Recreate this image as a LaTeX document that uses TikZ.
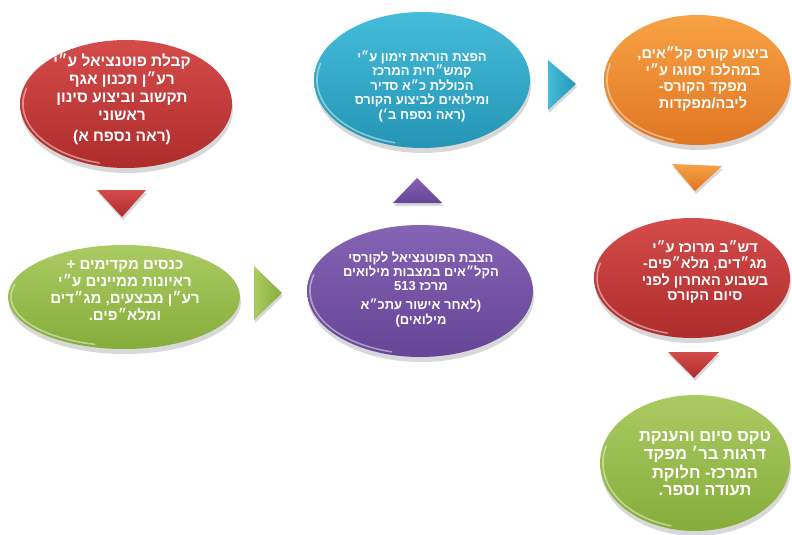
\documentclass[tikz,border=0pt]{standalone}
\usepackage{fontspec}
\setmainfont{Liberation Sans}
\newfontfamily\hebfont[Script=Hebrew]{Liberation Sans}
\TeXXeTstate=1
\usetikzlibrary{shapes.geometric,shadows}
\newcommand\rl[1]{\beginR #1\endR}
\newenvironment{hlines}{\begin{tabular}{@{}c@{}}}{\end{tabular}}
\definecolor{redA}{HTML}{D44C4A}\definecolor{redB}{HTML}{AE2C2C}
\definecolor{grnA}{HTML}{AACB62}\definecolor{grnB}{HTML}{85AD3A}
\definecolor{purA}{HTML}{8563B5}\definecolor{purB}{HTML}{654595}
\definecolor{bluA}{HTML}{45BCDA}\definecolor{bluB}{HTML}{2595B5}
\definecolor{orgA}{HTML}{F8A245}\definecolor{orgB}{HTML}{E07622}
\tikzset{
  bub/.style={ellipse, inner sep=0pt, draw=none,
    drop shadow={opacity=0.3, shadow xshift=1pt, shadow yshift=-5pt}},
  txt/.style={text=white, font=\hebfont\bfseries, inner sep=0pt},
  tri/.style={draw=none, drop shadow={opacity=0.3, shadow xshift=1pt, shadow yshift=-3pt}},
  rim/.style={draw=white, opacity=0.45, line width=1.6pt, line cap=round}
}
\newcommand\bubble[7]{%
  \node[bub, top color=#6, bottom color=#7, minimum width={2*#4pt}, minimum height={2*#5pt}] (#1) at (#2,#3) {};
  \draw[rim] (#1.center) ++(105:{#4-3} and {#5-3}) arc[start angle=105, end angle=195, x radius={#4-3}, y radius={#5-3}];
}
\begin{document}
\begin{tikzpicture}[x=1pt,y=-1pt]
\useasboundingbox (0,0) rectangle (792,535);
\fill[white] (0,0) rectangle (792,535);

\bubble{red1}{126}{104}{106}{64}{redA}{redB}
\bubble{grn1}{124}{297}{116}{52}{grnA}{grnB}
\bubble{pur}{420}{291}{113}{66}{purA}{purB}
\bubble{blu}{422}{80}{108}{68}{bluA}{bluB}
\bubble{org}{697}{80}{93}{65}{orgA}{orgB}
\bubble{red2}{692}{278}{98}{60}{redA}{redB}
\bubble{grn2}{695}{463}{95}{68}{grnA}{grnB}

% triangles
\path[tri, top color=redA, bottom color=redB] (97,190) -- (146,190) -- (122,217) -- cycle;
\path[tri, left color=grnA, right color=grnB] (254,266) -- (254,320) -- (282,293) -- cycle;
\path[tri, top color=purA, bottom color=purB] (393,203) -- (442,203) -- (417,178) -- cycle;
\path[tri, left color=bluA, right color=bluB] (548,60) -- (548,110) -- (576,84) -- cycle;
\path[tri, top color=orgA, bottom color=orgB] (672,164) -- (722,166) -- (695,191) -- cycle;
\path[tri, top color=redA, bottom color=redB] (668,352) -- (719,352) -- (694,378) -- cycle;

% texts
\node[txt] (t1) at (122,100) {\fontsize{15.5}{18}\selectfont\begin{hlines}
\rl{קבלת פוטנציאל ע״י}\\ \rl{רע״ן תכנון אגף}\\ \rl{תקשוב וביצוע סינון}\\ \rl{ראשוני}\\[3pt] \rl{(ראה נספח א)}\end{hlines}};
\node[txt] (t2) at (422,87) {\fontsize{13}{13.5}\selectfont\begin{hlines}
\rl{הפצת הוראת זימון ע״י}\\ \rl{קמש״חית המרכז}\\ \rl{הכוללת כ״א סדיר}\\ \rl{ומילואים לביצוע הקורס}\\ \rl{(ראה נספח ב׳)}\end{hlines}};
\node[txt] (t3) at (703,80) {\fontsize{14.5}{16}\selectfont\begin{hlines}
\rl{ביצוע קורס קל״אים,}\\ \rl{במהלכו יסווגו ע״י}\\ \rl{מפקד הקורס-}\\ \rl{ליבה/מפקדות}\end{hlines}};
\node[txt] (t4) at (705,273) {\fontsize{14.5}{15.5}\selectfont\begin{hlines}
\rl{דש״ב מרוכז ע״י}\\ \rl{מג״דים, מלא״פים-}\\ \rl{בשבוע האחרון לפני}\\ \rl{סיום הקורס}\end{hlines}};
\node[txt] (t5) at (705,465) {\fontsize{16.5}{17.5}\selectfont\begin{hlines}
\rl{טקס סיום והענקת}\\ \rl{דרגות בר׳ מפקד}\\ \rl{המרכז- חלוקת}\\ \rl{תעודה וספר.}\end{hlines}};
\node[txt] (t6) at (125,292) {\fontsize{15}{15}\selectfont\begin{hlines}
\rl{כנסים מקדימים +}\\ \rl{ראיונות ממיינים ע״י}\\ \rl{רע״ן מבצעים, מג״דים}\\ \rl{ומלא״פים.}\end{hlines}};
\node[txt] (t7) at (421,290) {\fontsize{13}{13.5}\selectfont\begin{hlines}
\rl{הצבת הפוטנציאל לקורסי}\\ \rl{הקל״אים במצבות מילואים}\\ \rl{מרכז 513}\\[5pt] \rl{(לאחר אישור עתכ״א}\\ \rl{מילואים)}\end{hlines}};
\end{tikzpicture}
\end{document}
